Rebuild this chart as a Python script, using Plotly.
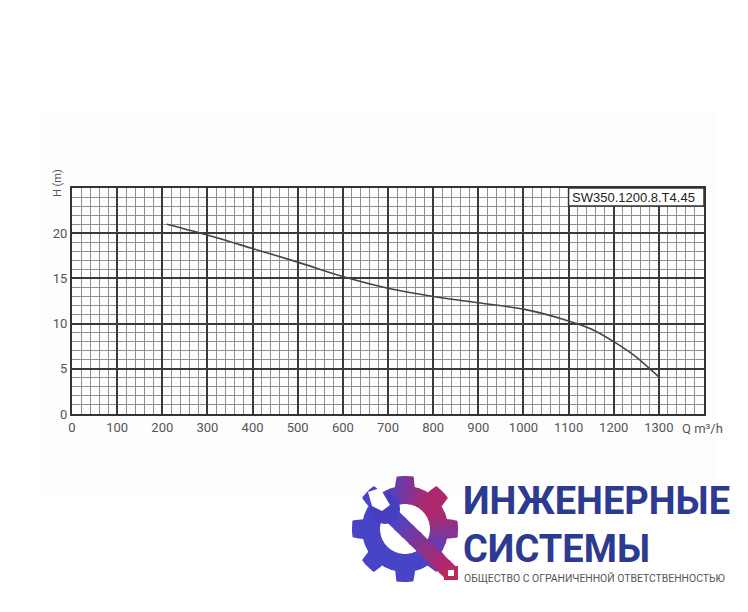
import math
import plotly.graph_objects as go

# ---- data ----
flow = [210, 300, 400, 500, 600, 700, 800, 900, 1000, 1100, 1150, 1200, 1250, 1300]
head = [21.0, 19.8, 18.3, 16.8, 15.2, 13.9, 13.0, 12.3, 11.6, 10.3, 9.4, 8.0, 6.3, 4.1]
x_ticks = [0, 100, 200, 300, 400, 500, 600, 700, 800, 900, 1000, 1100, 1200, 1300]
y_ticks = [0, 5, 10, 15, 20]
model_label = "SW350.1200.8.T4.45"
company_line1 = "ИНЖЕНЕРНЫЕ"
company_line2 = "СИСТЕМЫ"
company_sub = "ОБЩЕСТВО С ОГРАНИЧЕННОЙ ОТВЕТСТВЕННОСТЬЮ"

OFF = 8  # page body margin
W, H = 748 - OFF, 612 - OFF
PLOT_L, PLOT_R, PLOT_T, PLOT_B = 72, 704, 188, 414  # page pixels
ML = PLOT_L - OFF
MT = PLOT_T - OFF
MR = W - (PLOT_R - OFF)
MB = H - (PLOT_B - OFF)
PW, PH = W - ML - MR, H - MT - MB


def P(px, py):
    """page pixel -> paper coords"""
    return (px - OFF - ML) / PW, (H - MB - (py - OFF)) / PH


TICKFONT = dict(family="Liberation Sans Narrow, Roboto, sans-serif", size=13, color="#555")

fig = go.Figure(go.Scatter(
    x=flow, y=head, mode="lines",
    line=dict(color="#444", width=1.6, shape="spline", smoothing=0.8),
    hoverinfo="skip"))

fig.update_layout(
    width=W, height=H, margin=dict(l=ML, r=MR, t=MT, b=MB, pad=0),
    paper_bgcolor="white", plot_bgcolor="white", showlegend=False)

fig.update_xaxes(
    range=[0, 1400], tickvals=x_ticks, showgrid=True, gridcolor="#3a3a3a", gridwidth=2,
    minor=dict(dtick=20, tick0=0, showgrid=True, gridcolor="#8e8e8e", gridwidth=1),
    showline=True, mirror=True, linecolor="#333", linewidth=2, zeroline=False,
    ticks="", tickfont=TICKFONT, fixedrange=True)
fig.update_yaxes(
    range=[0, 25], tickvals=y_ticks, showgrid=True, gridcolor="#3a3a3a", gridwidth=2,
    minor=dict(dtick=1, tick0=0, showgrid=True, gridcolor="#8e8e8e", gridwidth=1),
    showline=True, mirror=True, linecolor="#333", linewidth=2, zeroline=False,
    ticks="", tickfont=TICKFONT, fixedrange=True)

shapes = []
annotations = []

# faint background panel
x0, y0 = P(40, 112)
x1, y1 = P(716, 497)
shapes.append(dict(type="rect", xref="paper", yref="paper", x0=x0, y0=y0, x1=x1, y1=y1,
                   fillcolor="#fdfdfd", line=dict(width=0), layer="below"))

# model label box
shapes.append(dict(type="rect", xref="x", yref="y", x0=1100, y0=23, x1=1400, y1=25,
                   fillcolor="white", line=dict(color="#333", width=1.5), layer="above"))
annotations.append(dict(x=1104, y=24, xref="x", yref="y", text=model_label, showarrow=False,
                        xanchor="left", yanchor="middle",
                        font=dict(family="Liberation Sans, Arial, sans-serif", size=13, color="#222")))

# axis titles
ax, ay = P(57, 183)
annotations.append(dict(x=ax, y=ay, xref="paper", yref="paper", text="H (m)", textangle=-90,
                        showarrow=False, xanchor="center", yanchor="middle",
                        font=dict(family="Liberation Sans Narrow, Roboto, sans-serif", size=11, color="#555")))
ax, ay = P(680, 428)
annotations.append(dict(x=ax, y=ay, xref="paper", yref="paper", text="Q m³/h",
                        showarrow=False, xanchor="left", yanchor="middle",
                        font=dict(family="Liberation Sans Narrow, Roboto, sans-serif", size=13, color="#555")))

# ---- logo: gear ----
cx, cy = 405, 529
R_out, R_root, R_in = 53, 43, 25
BLUE = (72, 68, 200)
MAG = (176, 40, 110)


def gear_r(theta_deg):
    ph = (theta_deg + 22.5) % 45 - 22.5
    a = abs(ph)
    if a <= 9:
        return R_out
    if a <= 13:
        return R_out - (R_out - R_root) * (a - 9) / 4
    return R_root


def mix(t):
    c = [int(BLUE[i] * (1 - t) + MAG[i] * t) for i in range(3)]
    return "rgb(%d,%d,%d)" % tuple(c)


nsec = 36
for k in range(nsec):
    a0 = k * 360 / nsec
    a1 = (k + 1) * 360 / nsec + 3.0
    pts = []
    a = a0
    while a <= a1 + 1e-9:
        r = gear_r(a)
        pts.append(P(cx + r * math.cos(math.radians(a)), cy - r * math.sin(math.radians(a))))
        a += 0.5
    a = a1
    while a >= a0 - 1e-9:
        pts.append(P(cx + R_in * math.cos(math.radians(a)), cy - R_in * math.sin(math.radians(a))))
        a -= 1
    path = "M " + " L ".join("%.5f,%.5f" % p for p in pts) + " Z"
    mid = (a0 + a1) / 2
    t = max(0.0, math.cos(math.radians(mid - 40))) ** 1.6
    shapes.append(dict(type="path", xref="paper", yref="paper", path=path,
                       fillcolor=mix(t), line=dict(width=0), layer="above"))


# ---- logo: wrench ----
def poly(points, color):
    pts = [P(x, y) for x, y in points]
    path = "M " + " L ".join("%.5f,%.5f" % p for p in pts) + " Z"
    return dict(type="path", xref="paper", yref="paper", path=path,
                fillcolor=color, line=dict(width=0), layer="above")


hx0, hy0, hx1, hy1 = 392, 516, 451, 573
hw = 8
dx, dy = hx1 - hx0, hy1 - hy0
L = math.hypot(dx, dy)
nx, ny = -dy / L * hw, dx / L * hw
nseg = 8
for k in range(nseg):
    s0, s1 = k / nseg, (k + 1.3) / nseg
    ax0, ay0 = hx0 + dx * s0, hy0 + dy * s0
    ax1, ay1 = hx0 + dx * min(s1, 1), hy0 + dy * min(s1, 1)
    t = (k + 0.5) / nseg
    col = mix(min(1, t * 1.2))
    shapes.append(poly([(ax0 + nx, ay0 + ny), (ax1 + nx, ay1 + ny),
                        (ax1 - nx, ay1 - ny), (ax0 - nx, ay0 - ny)], col))
shapes.append(poly([(444, 566), (458, 566), (458, 580), (444, 580)], "rgb(190,40,90)"))
shapes.append(poly([(448, 570), (454, 570), (454, 576), (448, 576)], "white"))
hx, hy, hr = 385, 509, 15
x0, y0 = P(hx - hr, hy - hr)
x1, y1 = P(hx + hr, hy + hr)
shapes.append(dict(type="circle", xref="paper", yref="paper", x0=x0, y0=y1, x1=x1, y1=y0,
                   fillcolor="rgb(70,62,190)", line=dict(width=0), layer="above"))
shapes.append(poly([(368, 492), (380, 488), (390, 505), (382, 511), (372, 506)], "white"))

# ---- logo: text ----
TX = 462
ax, ay = P(TX, 524)
annotations.append(dict(x=ax, y=ay, xref="paper", yref="paper", text="<b>%s</b>" % company_line1,
                        showarrow=False, xanchor="left", yanchor="bottom", borderpad=0,
                        font=dict(family="Liberation Sans Narrow, Roboto, sans-serif", size=38, color="#2c3a8f")))
ax, ay = P(TX, 526)
annotations.append(dict(x=ax, y=ay, xref="paper", yref="paper", text="<b>%s</b>" % company_line2,
                        showarrow=False, xanchor="left", yanchor="top", borderpad=0,
                        font=dict(family="Liberation Sans Narrow, Roboto, sans-serif", size=38, color="#2c3a8f")))
ax, ay = P(TX, 578)
annotations.append(dict(x=ax, y=ay, xref="paper", yref="paper", text=company_sub,
                        showarrow=False, xanchor="left", yanchor="middle",
                        font=dict(family="Liberation Sans Narrow, Roboto, sans-serif", size=10.4, color="#555")))

fig.update_layout(shapes=shapes, annotations=annotations)
fig.write_html("out.html")
